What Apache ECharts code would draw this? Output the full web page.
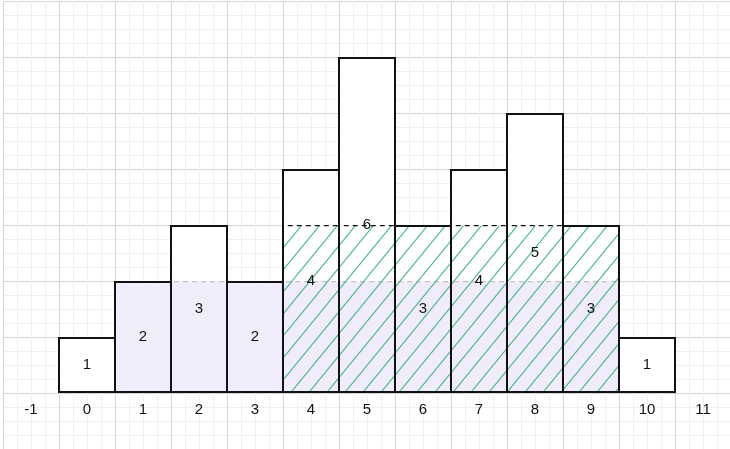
<!DOCTYPE html>
<html>
<head>
<meta charset="utf-8">
<script src="https://cdn.jsdelivr.net/npm/echarts@6/dist/echarts.min.js"></script>
<style>html,body{margin:0;padding:0;background:#fff}#c{width:730px;height:449px}</style>
</head>
<body>
<div id="c"></div>
<script>
// Data
var categories = ['-1','0','1','2','3','4','5','6','7','8','9','10','11'];
var heights    = [null,1,2,3,2,4,6,3,4,5,3,1,null];
var purpleLevel= [null,null,2,2,2,2,2,2,2,2,2,null,null];
var hatchLevel = [null,null,null,null,null,3,3,3,3,3,3,null,null];

// hatch pattern tile
var tw = 18, th = 22;
var cv = document.createElement('canvas');
cv.width = tw; cv.height = th;
var ctx = cv.getContext('2d');
ctx.strokeStyle = '#35b57c';
ctx.lineWidth = 1.1;
[-tw, 0, tw].forEach(function(dx){
  ctx.beginPath();
  ctx.moveTo(dx - tw, th * 2);
  ctx.lineTo(dx + tw * 2, -th);
  ctx.stroke();
});

var chart = echarts.init(document.getElementById('c'), null, {renderer:'canvas'});
var font = {fontFamily:'Liberation Sans, Arial, Helvetica, sans-serif', fontSize:15, color:'#111'};
var BW = 58;
chart.setOption({
  animation:false,
  backgroundColor:'#fff',
  grid:{left:3, top:1, width:728, height:448, containLabel:false, outerBoundsMode:'none'},
  xAxis:[{
    type:'category', data:categories, boundaryGap:true, position:'bottom', offset:-56,
    axisLine:{show:false, onZero:false}, axisTick:{show:false},
    axisLabel:Object.assign({margin:9}, font),
    splitLine:{show:false}
  },{
    type:'value', min:0, max:13, interval:1,
    axisLine:{show:false}, axisTick:{show:false}, axisLabel:{show:false},
    splitLine:{show:true, lineStyle:{color:'#d4d4d4', width:1}},
    minorTick:{show:false, splitNumber:4},
    minorSplitLine:{show:true, lineStyle:{color:'#efefef', width:1}}
  }],
  yAxis:{
    type:'value', min:-1, max:7, interval:1,
    axisLine:{show:false}, axisTick:{show:false}, axisLabel:{show:false},
    splitLine:{show:true, lineStyle:{color:'#d4d4d4', width:1}},
    minorTick:{show:false, splitNumber:4},
    minorSplitLine:{show:true, lineStyle:{color:'#efefef', width:1}}
  },
  series:[
    {type:'bar', data:heights, barWidth:BW, barGap:'-100%',
     itemStyle:{color:'#ffffff', borderWidth:0}},
    {type:'bar', data:purpleLevel, barWidth:BW, barGap:'-100%',
     itemStyle:{color:'#f1ecfb', borderColor:'#c4c0c8', borderWidth:1.2, borderType:[5,4]}},
    {type:'bar', data:hatchLevel, barWidth:BW, barGap:'-100%',
     itemStyle:{color:{image:cv, repeat:'repeat'}, borderColor:'#111', borderWidth:1.3, borderType:[5,4]}},
    {type:'bar', data:heights, barWidth:BW, barGap:'-100%',
     itemStyle:{color:'rgba(0,0,0,0)', borderColor:'#111', borderWidth:2},
     label:Object.assign({show:true, position:'inside'}, font)}
  ]
});
</script>
</body>
</html>
